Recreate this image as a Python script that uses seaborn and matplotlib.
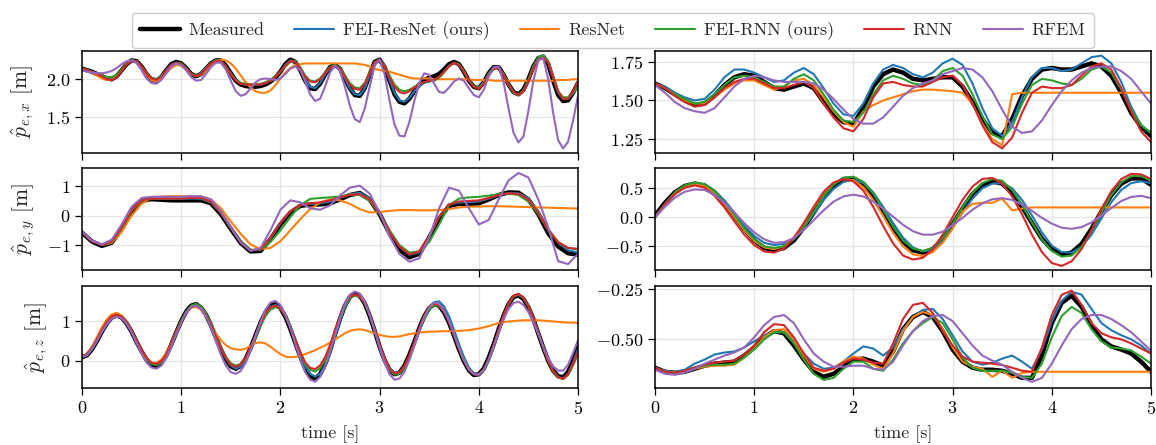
import numpy as np
import matplotlib
matplotlib.use('Agg')
import matplotlib.pyplot as plt
import seaborn as sns

# ---- end-effector position p_e,x : left panel sampled every 0.05 s ----
x1_measured = [2.14, 2.12, 2.10, 2.07, 2.04, 2.01, 2.00, 2.04, 2.12, 2.20,
               2.25, 2.24, 2.17, 2.07, 2.00, 1.98, 2.03, 2.12, 2.20, 2.23,
               2.21, 2.15, 2.07, 2.04, 2.07, 2.14, 2.21, 2.25, 2.25, 2.18,
               2.08, 1.98, 1.93, 1.91, 1.90, 1.90, 1.91, 1.93, 1.97, 2.02,
               2.10, 2.20, 2.26, 2.23, 2.12, 1.98, 1.88, 1.87, 1.94, 2.06,
               2.16, 2.19, 2.14, 2.01, 1.88, 1.79, 1.78, 1.88, 2.06, 2.23,
               2.26, 2.16, 1.98, 1.80, 1.70, 1.68, 1.74, 1.84, 1.93, 1.99,
               2.02, 2.04, 2.07, 2.13, 2.20, 2.23, 2.20, 2.10, 1.98, 1.90,
               1.88, 1.96, 2.08, 2.16, 2.16, 2.06, 1.93, 1.83, 1.80, 1.86,
               2.00, 2.17, 2.28, 2.30, 2.20, 1.98, 1.79, 1.71, 1.72, 1.82,
               1.95]
x1_fei_resnet = [2.14, 2.12, 2.10, 2.07, 2.05, 2.02, 2.01, 2.05, 2.12, 2.20,
                 2.24, 2.23, 2.17, 2.08, 2.02, 2.00, 2.04, 2.12, 2.19, 2.22,
                 2.20, 2.14, 2.07, 2.05, 2.08, 2.15, 2.21, 2.25, 2.24, 2.17,
                 2.08, 1.99, 1.94, 1.93, 1.93, 1.93, 1.93, 1.95, 1.98, 2.03,
                 2.10, 2.19, 2.25, 2.23, 2.13, 2.00, 1.90, 1.88, 1.95, 2.06,
                 2.15, 2.18, 2.13, 2.01, 1.88, 1.80, 1.79, 1.88, 2.05, 2.22,
                 2.26, 2.17, 1.99, 1.82, 1.72, 1.70, 1.75, 1.84, 1.91, 1.95,
                 1.97, 1.99, 2.03, 2.10, 2.18, 2.22, 2.19, 2.10, 1.98, 1.91,
                 1.89, 1.96, 2.08, 2.15, 2.15, 2.05, 1.92, 1.82, 1.79, 1.85,
                 1.99, 2.16, 2.28, 2.31, 2.22, 2.01, 1.82, 1.74, 1.74, 1.81,
                 1.90]
x1_resnet = [2.14, 2.12, 2.09, 2.05, 2.01, 1.99, 1.99, 2.04, 2.12, 2.20,
             2.25, 2.24, 2.16, 2.06, 1.99, 1.97, 2.01, 2.08, 2.15, 2.19,
             2.18, 2.13, 2.07, 2.04, 2.06, 2.12, 2.19, 2.24, 2.26, 2.25,
             2.21, 2.14, 2.05, 1.96, 1.89, 1.84, 1.82, 1.82, 1.85, 1.92,
             2.01, 2.09, 2.15, 2.19, 2.20, 2.21, 2.21, 2.21, 2.21, 2.21,
             2.21, 2.21, 2.21, 2.21, 2.21, 2.21, 2.20, 2.19, 2.17, 2.14,
             2.12, 2.11, 2.10, 2.08, 2.06, 2.04, 2.02, 2.01, 2.01, 2.01,
             2.01, 2.00, 2.00, 2.00, 2.00, 2.00, 2.00, 2.00, 2.00, 1.99,
             1.99, 1.99, 1.99, 1.98, 1.98, 1.98, 1.98, 1.98, 1.98, 1.98,
             1.98, 1.98, 1.98, 1.98, 1.98, 1.98, 1.99, 1.99, 1.99, 2.00,
             2.00]
x1_fei_rnn = [2.14, 2.12, 2.10, 2.08, 2.05, 2.03, 2.03, 2.06, 2.13, 2.21,
              2.25, 2.24, 2.17, 2.08, 2.02, 2.00, 2.04, 2.12, 2.19, 2.22,
              2.21, 2.15, 2.07, 2.04, 2.07, 2.14, 2.21, 2.25, 2.24, 2.17,
              2.07, 1.99, 1.95, 1.94, 1.93, 1.93, 1.94, 1.96, 1.99, 2.04,
              2.10, 2.17, 2.23, 2.24, 2.16, 2.05, 1.98, 1.97, 2.01, 2.09,
              2.16, 2.19, 2.15, 2.05, 1.95, 1.89, 1.88, 1.95, 2.09, 2.23,
              2.26, 2.18, 2.05, 1.93, 1.86, 1.84, 1.86, 1.90, 1.94, 1.96,
              1.97, 1.98, 2.02, 2.09, 2.17, 2.22, 2.20, 2.11, 1.99, 1.91,
              1.88, 1.95, 2.07, 2.15, 2.16, 2.07, 1.94, 1.83, 1.79, 1.85,
              1.99, 2.17, 2.29, 2.32, 2.24, 2.04, 1.84, 1.76, 1.76, 1.82,
              1.90]
x1_rnn = [2.14, 2.12, 2.10, 2.07, 2.04, 2.00, 1.99, 2.03, 2.11, 2.20,
          2.24, 2.24, 2.17, 2.08, 2.01, 1.99, 2.03, 2.12, 2.19, 2.22,
          2.20, 2.14, 2.07, 2.04, 2.07, 2.14, 2.21, 2.24, 2.24, 2.17,
          2.07, 1.98, 1.94, 1.93, 1.93, 1.93, 1.93, 1.95, 1.98, 2.03,
          2.10, 2.18, 2.24, 2.23, 2.14, 2.03, 1.97, 1.96, 2.00, 2.08,
          2.15, 2.18, 2.14, 2.03, 1.93, 1.87, 1.86, 1.94, 2.08, 2.22,
          2.26, 2.17, 2.02, 1.90, 1.83, 1.81, 1.84, 1.89, 1.93, 1.96,
          1.98, 1.99, 2.03, 2.10, 2.17, 2.22, 2.19, 2.10, 1.98, 1.90,
          1.87, 1.94, 2.06, 2.14, 2.15, 2.06, 1.93, 1.83, 1.79, 1.84,
          1.97, 2.14, 2.26, 2.29, 2.22, 2.03, 1.84, 1.74, 1.74, 1.84,
          1.97]
x1_rfem = [2.12, 2.10, 2.09, 2.08, 2.08, 2.09, 2.11, 2.15, 2.20, 2.24,
           2.25, 2.22, 2.12, 2.01, 1.95, 1.94, 1.99, 2.08, 2.17, 2.21,
           2.19, 2.12, 2.03, 1.98, 1.99, 2.07, 2.16, 2.22, 2.22, 2.13,
           1.98, 1.84, 1.78, 1.80, 1.88, 1.96, 2.00, 2.01, 2.00, 1.99,
           2.01, 2.07, 2.14, 2.17, 2.12, 1.97, 1.80, 1.71, 1.74, 1.90,
           2.09, 2.18, 2.11, 1.90, 1.65, 1.47, 1.43, 1.61, 1.90, 2.18,
           2.26, 2.07, 1.72, 1.40, 1.25, 1.24, 1.43, 1.71, 1.95, 2.08,
           2.06, 1.94, 1.83, 1.82, 1.89, 1.97, 2.01, 1.98, 1.88, 1.79,
           1.76, 1.86, 2.04, 2.16, 2.17, 1.96, 1.61, 1.29, 1.16, 1.24,
           1.58, 1.98, 2.25, 2.28, 2.00, 1.55, 1.19, 1.08, 1.17, 1.45,
           1.78]

# ---- p_e,x : right panel, every 0.1 s ----
x2_measured = [1.61, 1.58, 1.54, 1.50, 1.47, 1.48, 1.53, 1.60, 1.65, 1.67,
               1.66, 1.62, 1.58, 1.57, 1.59, 1.61, 1.58, 1.49, 1.41, 1.36,
               1.35, 1.45, 1.59, 1.67, 1.70, 1.68, 1.64, 1.63, 1.64, 1.65,
               1.65, 1.59, 1.49, 1.38, 1.29, 1.27, 1.38, 1.53, 1.64, 1.70,
               1.71, 1.70, 1.70, 1.72, 1.74, 1.72, 1.66, 1.55, 1.42, 1.33,
               1.27]
x2_fei_resnet = [1.61, 1.59, 1.55, 1.52, 1.50, 1.51, 1.57, 1.65, 1.70, 1.70,
                 1.68, 1.65, 1.62, 1.63, 1.68, 1.71, 1.67, 1.58, 1.48, 1.41,
                 1.40, 1.48, 1.61, 1.70, 1.73, 1.71, 1.67, 1.65, 1.68, 1.74,
                 1.77, 1.73, 1.61, 1.45, 1.32, 1.27, 1.36, 1.52, 1.65, 1.71,
                 1.71, 1.69, 1.70, 1.74, 1.78, 1.79, 1.74, 1.62, 1.46, 1.34,
                 1.29]
x2_resnet = [1.61, 1.58, 1.54, 1.50, 1.48, 1.48, 1.52, 1.57, 1.61, 1.63,
             1.63, 1.60, 1.57, 1.59, 1.63, 1.64, 1.60, 1.52, 1.43, 1.36,
             1.33, 1.43, 1.47, 1.50, 1.52, 1.54, 1.56, 1.57, 1.57, 1.565,
             1.56, 1.55, 1.48, 1.35, 1.25, 1.21, 1.54, 1.55, 1.55, 1.55,
             1.55, 1.55, 1.55, 1.55, 1.55, 1.55, 1.55, 1.55, 1.55, 1.55,
             1.55]
x2_fei_rnn = [1.61, 1.58, 1.54, 1.51, 1.48, 1.49, 1.54, 1.60, 1.65, 1.66,
              1.65, 1.62, 1.59, 1.59, 1.64, 1.67, 1.63, 1.54, 1.44, 1.37,
              1.36, 1.42, 1.54, 1.63, 1.66, 1.64, 1.61, 1.60, 1.63, 1.69,
              1.71, 1.66, 1.54, 1.40, 1.28, 1.25, 1.33, 1.48, 1.60, 1.64,
              1.63, 1.61, 1.60, 1.64, 1.70, 1.72, 1.68, 1.57, 1.44, 1.34,
              1.29]
x2_rnn = [1.61, 1.58, 1.53, 1.49, 1.46, 1.47, 1.52, 1.58, 1.62, 1.64,
          1.64, 1.61, 1.58, 1.58, 1.60, 1.62, 1.58, 1.48, 1.39, 1.32,
          1.30, 1.38, 1.52, 1.61, 1.62, 1.60, 1.59, 1.59, 1.62, 1.65,
          1.66, 1.60, 1.48, 1.34, 1.23, 1.19, 1.26, 1.42, 1.55, 1.59,
          1.58, 1.58, 1.60, 1.66, 1.72, 1.74, 1.70, 1.58, 1.43, 1.30,
          1.23]
x2_rfem = [1.60, 1.55, 1.49, 1.45, 1.43, 1.42, 1.45, 1.52, 1.59, 1.64,
           1.66, 1.65, 1.63, 1.62, 1.62, 1.62, 1.61, 1.57, 1.51, 1.44,
           1.38, 1.35, 1.35, 1.39, 1.46, 1.53, 1.58, 1.61, 1.63, 1.67,
           1.69, 1.71, 1.70, 1.65, 1.56, 1.44, 1.33, 1.29, 1.30, 1.37,
           1.47, 1.56, 1.63, 1.68, 1.71, 1.72, 1.72, 1.69, 1.64, 1.56,
           1.48]

# ---- p_e,y : left panel, every 0.1 s ----
y1_measured = [-0.58, -0.88, -1.03, -0.92, -0.45, 0.15, 0.50, 0.56, 0.54, 0.52,
               0.52, 0.52, 0.52, 0.42, 0.05, -0.45, -0.93, -1.22, -1.20, -0.80,
               -0.30, 0.10, 0.33, 0.38, 0.38, 0.42, 0.55, 0.70, 0.77, 0.55,
               0.05, -0.60, -1.15, -1.42, -1.30, -0.75, -0.10, 0.33, 0.40, 0.40,
               0.42, 0.55, 0.70, 0.79, 0.78, 0.55, 0.05, -0.60, -1.05, -1.28,
               -1.33]
y1_fei_resnet = [-0.56, -0.86, -1.00, -0.90, -0.42, 0.18, 0.52, 0.58, 0.57, 0.57,
                 0.57, 0.58, 0.57, 0.45, 0.08, -0.42, -0.90, -1.18, -1.15, -0.78,
                 -0.25, 0.15, 0.36, 0.40, 0.42, 0.48, 0.60, 0.73, 0.78, 0.58,
                 0.08, -0.55, -1.05, -1.33, -1.25, -0.72, -0.05, 0.38, 0.45, 0.46,
                 0.48, 0.58, 0.70, 0.76, 0.76, 0.60, 0.15, -0.45, -0.92, -1.18,
                 -1.25]
y1_resnet = [-0.56, -0.86, -1.00, -0.93, -0.55, 0.00, 0.40, 0.60, 0.65, 0.66,
             0.66, 0.66, 0.65, 0.55, 0.25, -0.20, -0.62, -0.98, -1.14, -1.10,
             -0.87, -0.50, -0.12, 0.22, 0.45, 0.55, 0.52, 0.40, 0.22, 0.11,
             0.12, 0.16, 0.19, 0.19, 0.18, 0.18, 0.19, 0.22, 0.28, 0.30,
             0.31, 0.32, 0.32, 0.31, 0.30, 0.29, 0.28, 0.27, 0.26, 0.25,
             0.24]
y1_fei_rnn = [-0.56, -0.86, -1.00, -0.90, -0.43, 0.15, 0.50, 0.58, 0.58, 0.58,
              0.59, 0.60, 0.60, 0.48, 0.10, -0.40, -0.88, -1.16, -1.16, -0.90,
              -0.50, -0.05, 0.35, 0.57, 0.60, 0.62, 0.65, 0.72, 0.70, 0.50,
              0.05, -0.50, -1.00, -1.26, -1.22, -0.90, -0.30, 0.35, 0.58, 0.62,
              0.64, 0.68, 0.73, 0.75, 0.70, 0.48, 0.05, -0.50, -0.90, -1.10,
              -1.15]
y1_rnn = [-0.56, -0.87, -1.00, -0.88, -0.40, 0.18, 0.52, 0.58, 0.58, 0.58,
          0.58, 0.60, 0.60, 0.48, 0.10, -0.40, -0.90, -1.18, -1.14, -0.75,
          -0.25, 0.15, 0.36, 0.42, 0.45, 0.52, 0.62, 0.71, 0.73, 0.55,
          0.08, -0.55, -1.05, -1.32, -1.22, -0.70, -0.05, 0.38, 0.48, 0.50,
          0.52, 0.60, 0.70, 0.76, 0.74, 0.55, 0.10, -0.48, -0.90, -1.10,
          -1.13]
y1_rfem = [-0.55, -0.85, -0.97, -0.82, -0.30, 0.30, 0.60, 0.64, 0.64, 0.64,
           0.64, 0.66, 0.66, 0.55, 0.15, -0.40, -0.92, -1.20, -1.10, -0.50,
           0.20, 0.52, 0.45, 0.25, 0.20, 0.35, 0.68, 0.95, 1.02, 0.75,
           0.10, -0.70, -1.30, -1.57, -1.45, -0.75, 0.25, 0.95, 0.85, 0.25,
           -0.30, -0.15, 0.55, 1.20, 1.45, 1.30, 0.55, -0.40, -1.55, -1.65,
           -1.30]

# ---- p_e,y : right panel, every 0.1 s ----
y2_measured = [0.03, 0.25, 0.43, 0.54, 0.58, 0.55, 0.43, 0.25, 0.03, -0.20,
               -0.40, -0.53, -0.57, -0.53, -0.40, -0.18, 0.08, 0.34, 0.54, 0.66,
               0.67, 0.58, 0.38, 0.10, -0.18, -0.42, -0.57, -0.61, -0.55, -0.38,
               -0.12, 0.15, 0.40, 0.56, 0.62, 0.58, 0.42, 0.18, -0.10, -0.37,
               -0.55, -0.64, -0.61, -0.46, -0.20, 0.10, 0.38, 0.58, 0.67, 0.67,
               0.56]
y2_fei_resnet = [0.00, 0.22, 0.41, 0.53, 0.58, 0.56, 0.46, 0.29, 0.08, -0.14,
                 -0.32, -0.44, -0.48, -0.46, -0.36, -0.17, 0.06, 0.30, 0.49, 0.61,
                 0.65, 0.59, 0.43, 0.18, -0.10, -0.35, -0.52, -0.59, -0.56, -0.42,
                 -0.18, 0.08, 0.32, 0.50, 0.58, 0.59, 0.50, 0.30, 0.03, -0.26,
                 -0.49, -0.60, -0.61, -0.51, -0.30, -0.02, 0.26, 0.47, 0.59, 0.62,
                 0.59]
y2_resnet = [0.00, 0.22, 0.42, 0.54, 0.57, 0.54, 0.42, 0.23, 0.01, -0.22,
             -0.41, -0.52, -0.55, -0.50, -0.35, -0.11, 0.17, 0.42, 0.59, 0.66,
             0.64, 0.52, 0.30, 0.02, -0.27, -0.50, -0.64, -0.67, -0.60, -0.44,
             -0.20, 0.10, 0.23, 0.25, 0.25, 0.32, 0.12, 0.15, 0.17, 0.17,
             0.17, 0.17, 0.17, 0.17, 0.17, 0.17, 0.17, 0.17, 0.17, 0.17,
             0.17]
y2_fei_rnn = [0.00, 0.23, 0.43, 0.55, 0.60, 0.57, 0.45, 0.26, 0.04, -0.19,
              -0.38, -0.50, -0.53, -0.50, -0.38, -0.17, 0.09, 0.36, 0.56, 0.68,
              0.70, 0.61, 0.41, 0.13, -0.16, -0.40, -0.54, -0.58, -0.53, -0.36,
              -0.11, 0.17, 0.42, 0.59, 0.66, 0.63, 0.47, 0.21, -0.09, -0.38,
              -0.58, -0.68, -0.66, -0.51, -0.24, 0.08, 0.38, 0.60, 0.71, 0.71,
              0.64]
y2_rnn = [0.00, 0.22, 0.40, 0.51, 0.55, 0.51, 0.37, 0.17, -0.07, -0.30,
          -0.48, -0.59, -0.61, -0.54, -0.36, -0.10, 0.18, 0.44, 0.60, 0.66,
          0.62, 0.46, 0.18, -0.15, -0.45, -0.66, -0.73, -0.70, -0.55, -0.30,
          0.00, 0.30, 0.53, 0.66, 0.68, 0.58, 0.36, 0.05, -0.30, -0.60,
          -0.79, -0.84, -0.76, -0.55, -0.22, 0.14, 0.45, 0.66, 0.75, 0.74,
          0.66]
y2_rfem = [0.00, 0.18, 0.34, 0.44, 0.48, 0.47, 0.39, 0.25, 0.08, -0.10,
           -0.26, -0.38, -0.44, -0.43, -0.36, -0.22, -0.05, 0.12, 0.27, 0.36,
           0.39, 0.36, 0.27, 0.15, 0.01, -0.13, -0.24, -0.30, -0.30, -0.25,
           -0.14, -0.01, 0.13, 0.24, 0.31, 0.33, 0.30, 0.22, 0.11, -0.01,
           -0.11, -0.18, -0.20, -0.17, -0.09, 0.03, 0.16, 0.28, 0.35, 0.37,
           0.33]

# ---- p_e,z : left panel, every 0.05 s ----
z1_measured = [0.09, 0.14, 0.29, 0.50, 0.74, 0.95, 1.10, 1.15,
               1.10, 0.95, 0.74, 0.48, 0.24, 0.03, -0.10, -0.13,
               -0.05, 0.14, 0.41, 0.72, 1.01, 1.25, 1.40, 1.44,
               1.35, 1.17, 0.90, 0.59, 0.29, 0.03, -0.14, -0.20,
               -0.13, 0.05, 0.33, 0.65, 0.97, 1.23, 1.40, 1.44,
               1.34, 1.12, 0.81, 0.46, 0.11, -0.19, -0.38, -0.45,
               -0.34, -0.09, 0.26, 0.67, 1.06, 1.40, 1.62, 1.70,
               1.65, 1.46, 1.14, 0.76, 0.36, 0.02, -0.23, -0.34,
               -0.30, -0.13, 0.15, 0.48, 0.83, 1.13, 1.34, 1.44,
               1.40, 1.23, 0.97, 0.64, 0.29, -0.01, -0.24, -0.36,
               -0.34, -0.20, 0.08, 0.42, 0.80, 1.15, 1.44, 1.62, 1.66,
               1.57, 1.36, 1.06, 0.69, 0.33, 0.00, -0.25, -0.39, -0.42,
               -0.28, 0.00, 0.35]
z1_fei_resnet = [0.10, 0.15, 0.30, 0.51, 0.74, 0.94, 1.08, 1.13,
                 1.10, 0.97, 0.77, 0.52, 0.27, 0.06, -0.07, -0.10,
                 -0.04, 0.13, 0.39, 0.70, 0.99, 1.23, 1.38, 1.42,
                 1.36, 1.19, 0.93, 0.62, 0.32, 0.06, -0.12, -0.20,
                 -0.15, 0.02, 0.29, 0.61, 0.93, 1.20, 1.37, 1.42,
                 1.36, 1.16, 0.86, 0.51, 0.16, -0.14, -0.33, -0.40,
                 -0.33, -0.12, 0.21, 0.61, 1.01, 1.36, 1.59, 1.68,
                 1.65, 1.49, 1.19, 0.81, 0.42, 0.08, -0.18, -0.30,
                 -0.29, -0.15, 0.10, 0.42, 0.78, 1.10, 1.35, 1.49,
                 1.51, 1.38, 1.13, 0.79, 0.43, 0.10, -0.17, -0.32,
                 -0.35, -0.24, 0.02, 0.37, 0.76, 1.12, 1.43, 1.63, 1.68,
                 1.60, 1.40, 1.10, 0.72, 0.35, 0.01, -0.26, -0.41, -0.45,
                 -0.33, -0.05, 0.30]
z1_resnet = [0.10, 0.17, 0.35, 0.60, 0.85, 1.05, 1.18, 1.22,
             1.15, 0.98, 0.75, 0.48, 0.23, 0.04, -0.05, -0.05,
             0.03, 0.20, 0.45, 0.74, 1.01, 1.23, 1.35, 1.37,
             1.30, 1.13, 0.92, 0.70, 0.52, 0.40, 0.32, 0.29,
             0.28, 0.31, 0.38, 0.45, 0.47, 0.44, 0.36, 0.26,
             0.17, 0.11, 0.09, 0.10, 0.13, 0.17, 0.22, 0.27,
             0.33, 0.39, 0.46, 0.54, 0.62, 0.70, 0.76, 0.79,
             0.80, 0.78, 0.74, 0.70, 0.66, 0.63, 0.61, 0.61,
             0.62, 0.65, 0.68, 0.70, 0.72, 0.73, 0.74, 0.74,
             0.75, 0.75, 0.75, 0.76, 0.76, 0.77, 0.78, 0.80,
             0.82, 0.85, 0.88, 0.92, 0.96, 0.98, 1.00, 1.01, 1.02,
             1.03, 1.03, 1.03, 1.03, 1.02, 1.01, 1.00, 0.99, 0.98,
             0.97, 0.97, 0.96]
z1_fei_rnn = [0.10, 0.15, 0.31, 0.53, 0.77, 0.98, 1.12, 1.17,
              1.12, 0.97, 0.76, 0.50, 0.26, 0.05, -0.08, -0.11,
              -0.04, 0.14, 0.41, 0.72, 1.01, 1.25, 1.40, 1.45,
              1.38, 1.20, 0.94, 0.64, 0.35, 0.10, -0.06, -0.12,
              -0.08, 0.06, 0.30, 0.60, 0.90, 1.14, 1.30, 1.36,
              1.32, 1.15, 0.88, 0.55, 0.21, -0.07, -0.23, -0.27,
              -0.19, 0.02, 0.33, 0.70, 1.06, 1.38, 1.59, 1.66,
              1.63, 1.46, 1.15, 0.77, 0.38, 0.03, -0.23, -0.35,
              -0.32, -0.17, 0.09, 0.41, 0.76, 1.07, 1.30, 1.41,
              1.39, 1.25, 1.01, 0.69, 0.35, 0.04, -0.20, -0.33,
              -0.35, -0.23, 0.03, 0.38, 0.77, 1.14, 1.45, 1.64, 1.69,
              1.60, 1.38, 1.07, 0.70, 0.33, -0.01, -0.27, -0.42, -0.46,
              -0.36, -0.12, 0.18]
z1_rnn = [0.10, 0.16, 0.32, 0.54, 0.78, 0.99, 1.13, 1.17,
          1.12, 0.98, 0.77, 0.52, 0.28, 0.08, -0.05, -0.08,
          -0.01, 0.16, 0.42, 0.71, 0.99, 1.22, 1.36, 1.40,
          1.33, 1.16, 0.90, 0.61, 0.32, 0.07, -0.10, -0.15,
          -0.09, 0.08, 0.35, 0.66, 0.96, 1.21, 1.36, 1.40,
          1.33, 1.14, 0.86, 0.54, 0.23, -0.04, -0.18, -0.21,
          -0.12, 0.09, 0.40, 0.77, 1.13, 1.44, 1.63, 1.68,
          1.64, 1.47, 1.17, 0.80, 0.41, 0.06, -0.20, -0.32,
          -0.29, -0.13, 0.14, 0.48, 0.84, 1.15, 1.37, 1.45,
          1.41, 1.24, 0.98, 0.65, 0.30, 0.00, -0.23, -0.34,
          -0.35, -0.22, 0.05, 0.40, 0.79, 1.16, 1.46, 1.65, 1.70,
          1.61, 1.39, 1.08, 0.71, 0.34, 0.00, -0.26, -0.42, -0.46,
          -0.34, -0.08, 0.22]
z1_rfem = [0.09, 0.14, 0.29, 0.50, 0.73, 0.93, 1.07, 1.12,
           1.08, 0.94, 0.72, 0.45, 0.18, -0.04, -0.17, -0.20,
           -0.12, 0.07, 0.35, 0.67, 0.97, 1.22, 1.37, 1.40,
           1.32, 1.13, 0.84, 0.50, 0.16, -0.12, -0.29, -0.33,
           -0.26, -0.05, 0.27, 0.64, 1.00, 1.30, 1.48, 1.52,
           1.42, 1.17, 0.83, 0.43, 0.04, -0.29, -0.48, -0.53,
           -0.41, -0.15, 0.22, 0.64, 1.07, 1.44, 1.68, 1.76,
           1.71, 1.51, 1.17, 0.76, 0.33, -0.05, -0.34, -0.48,
           -0.45, -0.28, 0.02, 0.38, 0.77, 1.11, 1.36, 1.48,
           1.45, 1.28, 1.02, 0.68, 0.33, 0.01, -0.22, -0.34,
           -0.35, -0.23, 0.03, 0.36, 0.72, 1.06, 1.32, 1.47, 1.50,
           1.42, 1.24, 0.98, 0.68, 0.36, 0.07, -0.14, -0.25, -0.25,
           -0.10, 0.20, 0.52]

# ---- p_e,z : right panel, every 0.1 s ----
z2_measured = [-0.64, -0.66, -0.665, -0.66, -0.645, -0.63, -0.62, -0.615, -0.61, -0.58,
               -0.54, -0.49, -0.46, -0.47, -0.53, -0.60, -0.66, -0.685, -0.67, -0.635,
               -0.60, -0.595, -0.61, -0.63, -0.56, -0.45, -0.39, -0.365, -0.39, -0.46,
               -0.55, -0.61, -0.64, -0.65, -0.65, -0.655, -0.67, -0.69, -0.69, -0.58,
               -0.42, -0.32, -0.285, -0.34, -0.43, -0.50, -0.535, -0.55, -0.57, -0.61,
               -0.66]
z2_fei_resnet = [-0.64, -0.655, -0.66, -0.65, -0.62, -0.60, -0.575, -0.565, -0.56, -0.54,
                 -0.51, -0.48, -0.465, -0.465, -0.51, -0.57, -0.62, -0.645, -0.64, -0.61,
                 -0.57, -0.535, -0.545, -0.58, -0.54, -0.45, -0.39, -0.355, -0.35, -0.40,
                 -0.48, -0.56, -0.61, -0.625, -0.615, -0.595, -0.58, -0.61, -0.645, -0.55,
                 -0.41, -0.31, -0.265, -0.28, -0.35, -0.42, -0.455, -0.48, -0.50, -0.53,
                 -0.57]
z2_resnet = [-0.64, -0.66, -0.665, -0.66, -0.645, -0.635, -0.63, -0.63, -0.625, -0.59,
             -0.545, -0.49, -0.455, -0.45, -0.50, -0.58, -0.645, -0.66, -0.645, -0.61,
             -0.585, -0.595, -0.625, -0.645, -0.57, -0.46, -0.39, -0.365, -0.38, -0.45,
             -0.54, -0.61, -0.635, -0.645, -0.685, -0.655, -0.69, -0.665, -0.66, -0.66,
             -0.66, -0.66, -0.66, -0.66, -0.66, -0.66, -0.66, -0.66, -0.66, -0.66,
             -0.66]
z2_fei_rnn = [-0.64, -0.66, -0.665, -0.655, -0.64, -0.63, -0.625, -0.625, -0.62, -0.59,
              -0.55, -0.50, -0.465, -0.465, -0.52, -0.60, -0.67, -0.70, -0.69, -0.645,
              -0.61, -0.61, -0.645, -0.655, -0.60, -0.52, -0.46, -0.42, -0.39, -0.42,
              -0.50, -0.59, -0.64, -0.655, -0.655, -0.655, -0.665, -0.685, -0.69, -0.62,
              -0.49, -0.385, -0.34, -0.37, -0.45, -0.51, -0.54, -0.545, -0.555, -0.585,
              -0.62]
z2_rnn = [-0.64, -0.66, -0.665, -0.655, -0.64, -0.625, -0.615, -0.61, -0.605, -0.575,
          -0.53, -0.465, -0.425, -0.43, -0.49, -0.57, -0.64, -0.655, -0.645, -0.615,
          -0.595, -0.60, -0.615, -0.62, -0.52, -0.40, -0.33, -0.32, -0.37, -0.46,
          -0.53, -0.585, -0.61, -0.615, -0.62, -0.627, -0.64, -0.655, -0.66, -0.54,
          -0.38, -0.28, -0.26, -0.33, -0.42, -0.47, -0.49, -0.50, -0.52, -0.545,
          -0.57]
z2_rfem = [-0.65, -0.67, -0.675, -0.665, -0.645, -0.62, -0.60, -0.58, -0.565, -0.54,
           -0.49, -0.43, -0.39, -0.38, -0.42, -0.50, -0.57, -0.61, -0.635, -0.635,
           -0.63, -0.63, -0.645, -0.65, -0.61, -0.53, -0.46, -0.41, -0.385, -0.38,
           -0.41, -0.47, -0.53, -0.58, -0.605, -0.625, -0.66, -0.69, -0.71, -0.69,
           -0.62, -0.53, -0.45, -0.40, -0.38, -0.38, -0.40, -0.43, -0.465, -0.51,
           -0.555]

labels = ['Measured', 'FEI-ResNet (ours)', 'ResNet', 'FEI-RNN (ours)', 'RNN', 'RFEM']
colors = ['black', '#1f77b4', '#ff7f0e', '#2ca02c', '#d62728', '#9467bd']
widths = [3.2, 1.5, 1.5, 1.5, 1.5, 1.5]

sns.set_theme(style='ticks')
plt.rcParams['font.family'] = 'serif'
plt.rcParams['font.serif'] = ['cmr10']
plt.rcParams['mathtext.fontset'] = 'cm'
plt.rcParams['axes.formatter.use_mathtext'] = True
plt.rcParams['axes.unicode_minus'] = True

W, H = 1156, 445
fig = plt.figure(figsize=(W / 100, H / 100), dpi=100)


def add_ax(left, top, right, bottom):
    return fig.add_axes([left / W, 1 - bottom / H, (right - left) / W, (bottom - top) / H])


panels = [
    # series, box, ylim, yticks, ylabel, bottom row
    ([x1_measured, x1_fei_resnet, x1_resnet, x1_fei_rnn, x1_rnn, x1_rfem],
     (82, 51, 578, 153), (1.02, 2.375), [1.5, 2.0], r'$\hat{p}_{e,x}$ [m]', False),
    ([x2_measured, x2_fei_resnet, x2_resnet, x2_fei_rnn, x2_rnn, x2_rfem],
     (655, 51, 1151, 153), (1.16, 1.82), [1.25, 1.5, 1.75], None, False),
    ([y1_measured, y1_fei_resnet, y1_resnet, y1_fei_rnn, y1_rnn, y1_rfem],
     (82, 168, 578, 270), (-1.85, 1.62), [-1, 0, 1], r'$\hat{p}_{e,y}$ [m]', False),
    ([y2_measured, y2_fei_resnet, y2_resnet, y2_fei_rnn, y2_rnn, y2_rfem],
     (655, 168, 1151, 270), (-0.91, 0.85), [-0.5, 0.0, 0.5], None, False),
    ([z1_measured, z1_fei_resnet, z1_resnet, z1_fei_rnn, z1_rnn, z1_rfem],
     (82, 286, 578, 388), (-0.69, 1.90), [0, 1], r'$\hat{p}_{e,z}$ [m]', True),
    ([z2_measured, z2_fei_resnet, z2_resnet, z2_fei_rnn, z2_rnn, z2_rfem],
     (655, 286, 1151, 388), (-0.74, -0.237), [-0.5, -0.25], None, True),
]

axes = []
for series, box, ylim, yticks, ylabel, bottom in panels:
    ax = add_ax(*box)
    for vals, name, c, lw in zip(series, labels, colors, widths):
        t = np.linspace(0, 5, len(vals))
        sns.lineplot(x=t, y=vals, ax=ax, color=c, lw=lw, label=name, legend=False)
    ax.set_xlim(0, 5)
    ax.set_ylim(*ylim)
    ax.set_xticks([0, 1, 2, 3, 4, 5])
    ax.set_yticks(yticks)
    ax.grid(True, color='#e4e4e4', lw=0.9)
    ax.set_axisbelow(True)
    for sp in ax.spines.values():
        sp.set_color('black')
        sp.set_linewidth(1.1)
    ax.tick_params(direction='out', length=5, width=0.9, labelsize=13, colors='black')
    if ylabel:
        ax.set_ylabel(ylabel, fontsize=15.5, labelpad=7)
    else:
        ax.set_ylabel('')
    if bottom:
        ax.set_xlabel('time [s]', fontsize=13, labelpad=6)
    else:
        ax.set_xlabel('')
        ax.tick_params(labelbottom=False)
    axes.append(ax)

handles = axes[0].get_lines()[:6]
fig.legend(handles, labels, loc='upper center', bbox_to_anchor=(0.530, 0.99), ncol=6,
           frameon=True, fancybox=True, edgecolor='0.8', framealpha=1, fontsize=13,
           handlelength=2.2, handletextpad=0.5, columnspacing=1.65, borderpad=0.45)

fig.savefig('out.png', dpi=100)
